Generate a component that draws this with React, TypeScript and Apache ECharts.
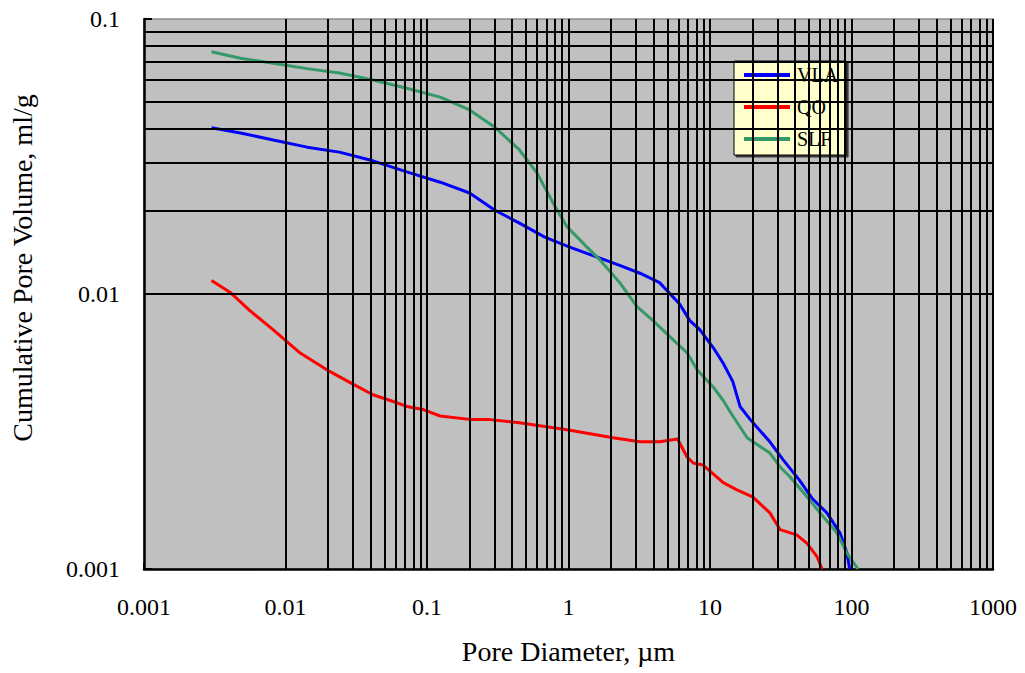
import React, { useEffect, useRef } from "react";
import * as echarts from "echarts";

// Pore diameter (µm) vs cumulative pore volume (ml/g) for each sample
const vlaData: [number, number][] = [
  [0.003, 0.0402], [0.0048, 0.0385], [0.0082, 0.0363], [0.0142, 0.0342],
  [0.024, 0.0328], [0.0415, 0.0305], [0.072, 0.0278], [0.124, 0.0255],
  [0.2, 0.0233], [0.3, 0.0202], [0.45, 0.0181], [0.68, 0.0161],
  [1.02, 0.0148], [1.67, 0.0135], [2.3, 0.0127], [3.2, 0.0119],
  [4.4, 0.011], [6.1, 0.0092], [7.2, 0.008], [8.5, 0.0074],
  [10.5, 0.0064], [12.4, 0.0056], [14.5, 0.0048], [16.3, 0.0039],
  [19.2, 0.0035], [26.5, 0.0029], [32.8, 0.0025], [43, 0.0021],
  [53, 0.0018], [67, 0.0016], [83, 0.00135], [93, 0.00114], [97, 0.001],
];

const qoData: [number, number][] = [
  [0.003, 0.0112], [0.0041, 0.0101], [0.0056, 0.0087], [0.0082, 0.0074],
  [0.0127, 0.0061], [0.0196, 0.0053], [0.03, 0.0047], [0.0415, 0.0043],
  [0.055, 0.0041], [0.072, 0.0039], [0.094, 0.0038], [0.124, 0.0036],
  [0.2, 0.0035], [0.27, 0.0035], [0.45, 0.0034], [1.0, 0.0032],
  [2.06, 0.003], [3.2, 0.0029], [4.4, 0.0029], [5.9, 0.00297],
  [6.9, 0.00255], [7.6, 0.00243], [8.9, 0.00239], [12.4, 0.00206],
  [15.5, 0.00194], [20, 0.00183], [26.5, 0.0016], [31.3, 0.00139],
  [41, 0.00133], [48.5, 0.00124], [57, 0.00111], [62, 0.001],
];

const slfData: [number, number][] = [
  [0.003, 0.076], [0.0048, 0.072], [0.0082, 0.069], [0.0142, 0.066],
  [0.024, 0.0636], [0.0415, 0.06], [0.072, 0.056], [0.124, 0.052],
  [0.2, 0.0467], [0.3, 0.0405], [0.45, 0.0334], [0.6, 0.0275],
  [0.78, 0.0214], [0.98, 0.0175], [1.21, 0.0157], [1.35, 0.0148],
  [1.67, 0.0133], [2.3, 0.011], [3.05, 0.009], [3.96, 0.008],
  [5.2, 0.007], [6.9, 0.0061], [8.1, 0.0053], [10.5, 0.0046],
  [12.4, 0.0041], [14.5, 0.0036], [18.3, 0.003], [26.5, 0.00264],
  [31.3, 0.00235], [36.8, 0.00216], [48.5, 0.00183], [60, 0.0016],
  [79, 0.00135], [93, 0.00114], [111, 0.001],
];

const seriesNames = ["VLA", "QO", "SLF"];
const seriesColors = ["#0000ff", "#ff0000", "#339966"];

// Decades of each logarithmic axis
const xDecades = [0.001, 0.01, 0.1, 1, 10, 100, 1000];
const yDecades = [0.001, 0.01, 0.1];

const xTitle = "Pore Diameter, \u00b5m";
const yTitle = "Cumulative Pore Volume, ml/g";

const FONT = "'Liberation Serif', 'Times New Roman', serif";

// Gridline values (1..9 times each decade) inside the axis range
function gridValues(decades: number[], includeLast: boolean): number[] {
  const out: number[] = [];
  for (let i = 0; i < decades.length; i++) {
    const d = decades[i];
    if (i < decades.length - 1 || includeLast) out.push(d);
    if (i < decades.length - 1) {
      for (let m = 2; m <= 9; m++) out.push(Number((d * m).toPrecision(6)));
    }
  }
  return out;
}

const fmt = (v: number) => String(Number(v.toPrecision(6)));

export default function App() {
  const ref = useRef<HTMLDivElement>(null);

  useEffect(() => {
    if (!ref.current) return;
    const chart = echarts.init(ref.current, undefined, { renderer: "svg" });

    const xs = gridValues(xDecades, true);
    const ys = gridValues(yDecades, false);

    const gridLines = [
      ...xs.map((v) => ({ xAxis: v })),
      ...ys.map((v) => ({ yAxis: v })),
    ];

    const dataSets = [vlaData, qoData, slfData];

    chart.setOption({
      animation: false,
      backgroundColor: "#ffffff",
      grid: {
        left: 144,
        right: 32,
        top: 19,
        bottom: 104,
        show: true,
        backgroundColor: "#c0c0c0",
        borderColor: "#8c8c8c",
        borderWidth: 1.5,
      },
      legend: {
        data: seriesNames,
        orient: "vertical",
        left: 734,
        top: 61,
        backgroundColor: "#ffffcc",
        borderColor: "#000000",
        borderWidth: 1,
        shadowColor: "rgba(0,0,0,0.7)",
        shadowBlur: 1,
        shadowOffsetX: 2,
        shadowOffsetY: 2,
        padding: [4, 8, 6, 8],
        itemWidth: 46,
        itemHeight: 14,
        itemGap: 12,
        itemStyle: { opacity: 0 },
        lineStyle: { width: 4 },
        textStyle: { fontFamily: FONT, fontSize: 20, color: "#000000", padding: [0, 0, 0, 2] },
      },
      graphic: [
        {
          type: "text",
          x: 22,
          y: 268,
          rotation: Math.PI / 2,
          style: {
            text: yTitle,
            fontFamily: FONT,
            fontSize: 28,
            fill: "#000000",
            align: "center",
            verticalAlign: "middle",
          },
        },
      ],
      xAxis: {
        type: "log",
        logBase: 10,
        min: xDecades[0],
        max: xDecades[xDecades.length - 1],
        name: xTitle,
        nameLocation: "middle",
        nameGap: 68,
        nameTextStyle: { fontFamily: FONT, fontSize: 28, color: "#000000" },
        axisLine: { show: true, lineStyle: { color: "#000000", width: 2.5 } },
        axisTick: { show: true, inside: true, length: 6, lineStyle: { color: "#000000", width: 2 } },
        axisLabel: {
          fontFamily: FONT,
          fontSize: 24,
          color: "#000000",
          margin: 26,
          formatter: (v: number) => fmt(v),
        },
        splitLine: { show: false },
      },
      yAxis: {
        type: "log",
        logBase: 10,
        min: yDecades[0],
        max: yDecades[yDecades.length - 1],
        axisLine: { show: true, lineStyle: { color: "#000000", width: 2.5 } },
        axisTick: { show: true, inside: true, length: 8, lineStyle: { color: "#000000", width: 2 } },
        axisLabel: {
          fontFamily: FONT,
          fontSize: 24,
          color: "#000000",
          margin: 24,
          formatter: (v: number) => fmt(v),
        },
        splitLine: { show: false },
      },
      series: [
        {
          name: "gridlines",
          type: "line",
          data: [],
          silent: true,
          z: 1,
          markLine: {
            silent: true,
            symbol: ["none", "none"],
            label: { show: false },
            lineStyle: { color: "#000000", width: 2, type: "solid", opacity: 1 },
            emphasis: { disabled: true },
            data: gridLines,
          },
        },
        ...seriesNames.map((name, i) => ({
          name,
          type: "line",
          data: dataSets[i],
          symbol: "none",
          showSymbol: false,
          z: 3,
          color: seriesColors[i],
          lineStyle: { color: seriesColors[i], width: 3 },
          emphasis: { disabled: true },
        })),
      ],
    });

    return () => chart.dispose();
  }, []);

  return (
    <div
      ref={ref}
      style={{ position: "absolute", left: 0, top: 0, width: 1025, height: 673 }}
    />
  );
}
